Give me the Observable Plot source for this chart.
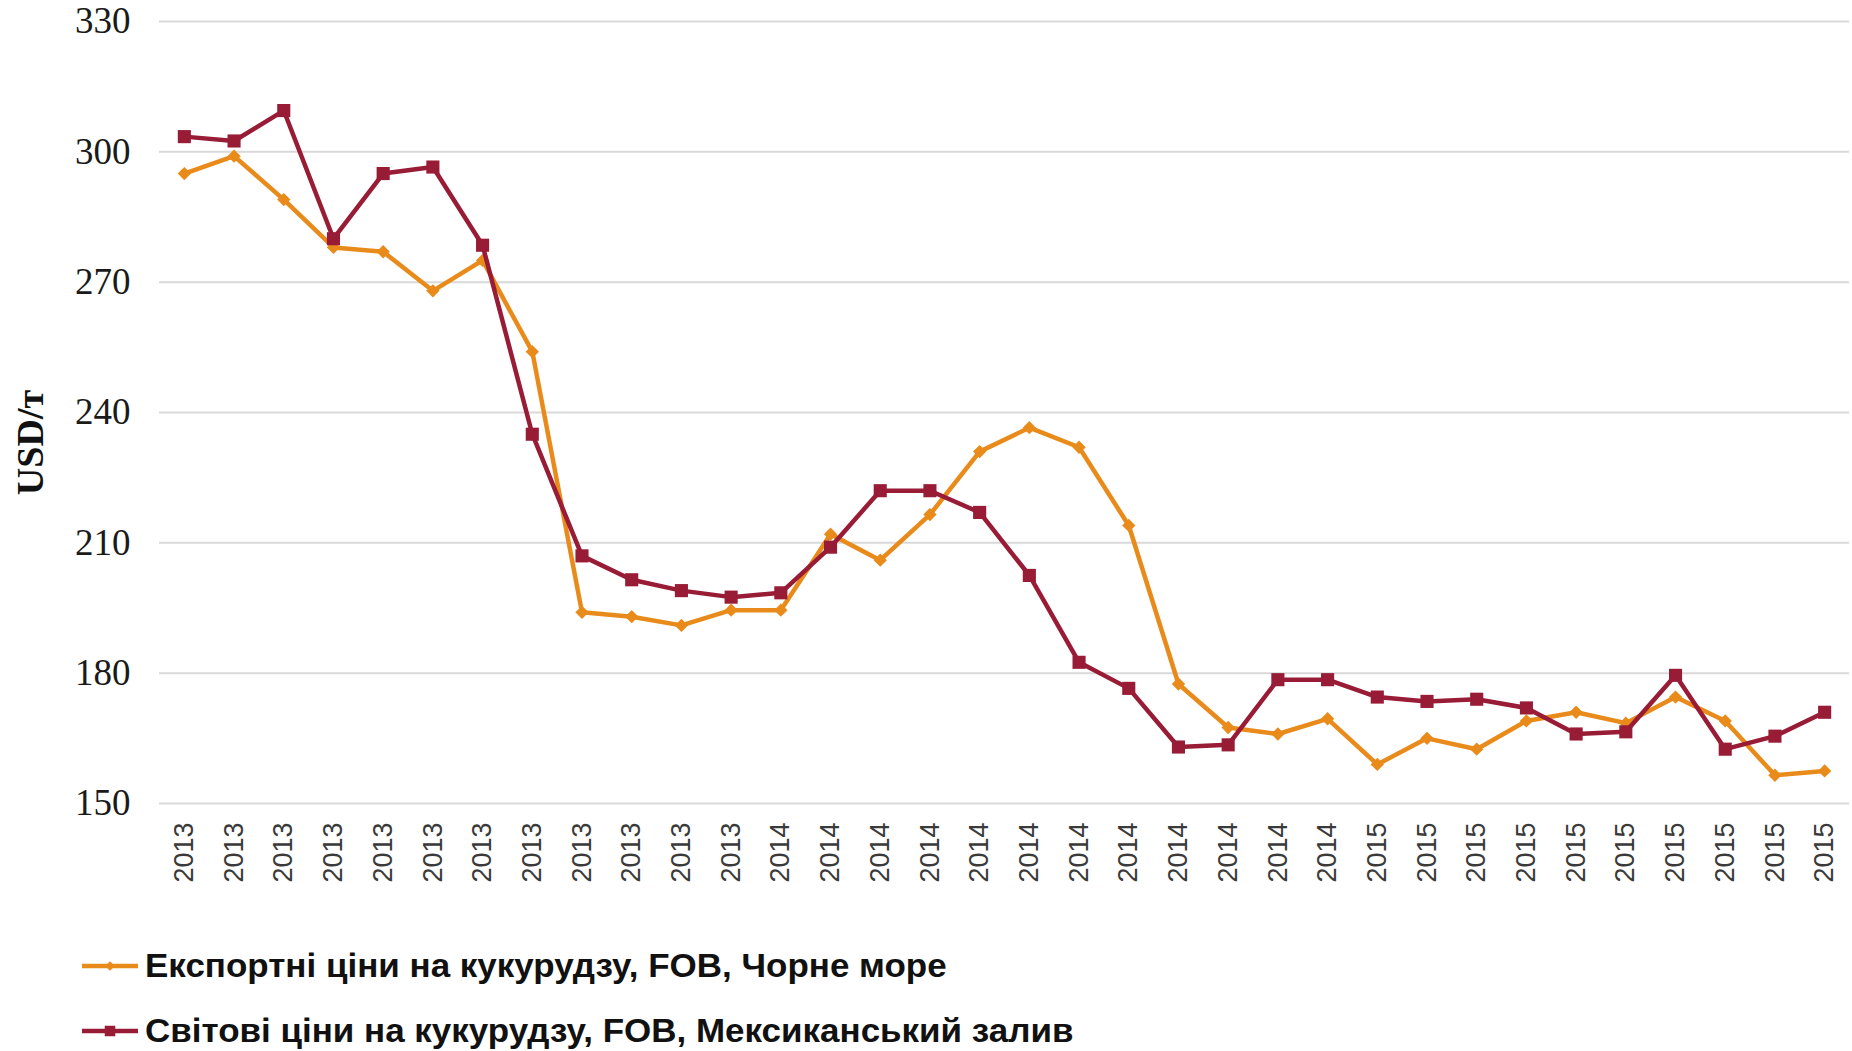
<!DOCTYPE html>
<html>
<head>
<meta charset="utf-8">
<script src="https://cdn.jsdelivr.net/npm/d3@7"></script>
<script src="https://cdn.jsdelivr.net/npm/@observablehq/plot@0.6"></script>
<style>
  html, body { margin: 0; padding: 0; background: #fff; }
  body { width: 1852px; height: 1051px; overflow: hidden; position: relative; }
  #chart { position: absolute; left: 0; top: 0; }
  .item { position: absolute; left: 82px; display: flex; align-items: center; white-space: nowrap;
          transform: translateY(-50%); font-family: "Liberation Sans", Arial, sans-serif;
          font-weight: bold; font-size: 33px; color: #111; }
  .item svg { margin-right: 5px; }
  .item span { display: inline-block; transform: scaleX(1.06); transform-origin: left center; }
</style>
</head>
<body>
<div id="chart"></div>
<div id="legend"></div>
<script>
// Period tick labels (monthly observations, labelled by year)
const periods = [
  "2013","2013","2013","2013","2013","2013","2013","2013","2013","2013","2013","2013",
  "2014","2014","2014","2014","2014","2014","2014","2014","2014","2014","2014","2014",
  "2015","2015","2015","2015","2015","2015","2015","2015","2015","2015"
];
// Експортні ціни на кукурудзу, FOB, Чорне море (USD/т)
const blackSea = [
  295, 299, 289, 278, 277, 268, 275, 254, 194, 193, 191, 194.5,
  194.5, 212, 206, 216.5, 231, 236.5, 232, 214, 177.5, 167.5, 166, 169.5,
  159, 165, 162.5, 169, 171, 168.5, 174.5, 169, 156.5, 157.5
];
// Світові ціни на кукурудзу, FOB, Мексиканський залив (USD/т)
const gulf = [
  303.5, 302.5, 309.5, 280, 295, 296.5, 278.5, 235, 207, 201.5, 199, 197.5,
  198.5, 209, 222, 222, 217, 202.5, 182.5, 176.5, 163, 163.5, 178.5, 178.5,
  174.5, 173.5, 174, 172, 166, 166.5, 179.5, 162.5, 165.5, 171
];
const seriesNames = [
  "Експортні ціни на кукурудзу, FOB, Чорне море",
  "Світові ціни на кукурудзу, FOB, Мексиканський залив"
];
const seriesColors = ["#E98B1B", "#991C36"];
const seriesSymbols = ["diamond2", "square"];
const yTicks = [150, 180, 210, 240, 270, 300, 330];
const yLabel = "USD/т";

const rowsA = periods.map((p, i) => ({ i, period: p, value: blackSea[i], series: seriesNames[0] }));
const rowsB = periods.map((p, i) => ({ i, period: p, value: gulf[i], series: seriesNames[1] }));
const idx = d3.range(periods.length);

const chart = Plot.plot({
  width: 1852,
  height: 900,
  marginLeft: 159,
  marginRight: 3,
  marginTop: 21,
  marginBottom: 97,
  style: { background: "transparent", overflow: "visible" },
  x: { type: "point", domain: idx, padding: 0.5, round: false },
  y: { domain: [150, 330] },
  marks: [
    Plot.gridY(yTicks, { stroke: "#d9d9d9", strokeOpacity: 1, strokeWidth: 2 }),
    Plot.axisY(yTicks, { tickSize: 0, tickPadding: 29, fontSize: 37, fontFamily: "Liberation Serif, Times New Roman, serif", fill: "#1a1a1a", label: null }),
    Plot.axisX(idx, { tickSize: 0, tickRotate: -90, tickPadding: 19, fontSize: 27, fontFamily: "Liberation Sans, Arial, sans-serif", fill: "#3a3a3a", tickFormat: i => periods[i], label: null }),
    Plot.text([yLabel], { frameAnchor: "left", textAnchor: "middle", lineAnchor: "middle", dx: -129, dy: 30, rotate: -90, fontSize: 38, fontWeight: "bold", fontFamily: "Liberation Serif, Times New Roman, serif", fill: "#111" }),
    Plot.line(rowsA, { x: "i", y: "value", stroke: seriesColors[0], strokeWidth: 4.5 }),
    Plot.dot(rowsA, { x: "i", y: "value", symbol: seriesSymbols[0], r: 6, fill: seriesColors[0], stroke: null }),
    Plot.line(rowsB, { x: "i", y: "value", stroke: seriesColors[1], strokeWidth: 4.5 }),
    Plot.dot(rowsB, { x: "i", y: "value", symbol: seriesSymbols[1], r: 7.4, fill: seriesColors[1], stroke: null })
  ]
});
document.getElementById("chart").appendChild(chart);

// Legend below the plot
const legendTops = [966, 1031];
const legend = document.getElementById("legend");
seriesNames.forEach((name, k) => {
  const item = document.createElement("div");
  item.className = "item";
  item.style.top = legendTops[k] + "px";
  const sw = d3.create("svg").attr("width", 58).attr("height", 20);
  sw.append("line").attr("x1", 0).attr("x2", 56).attr("y1", 10).attr("y2", 10)
    .attr("stroke", seriesColors[k]).attr("stroke-width", 4.5);
  const sym = d3.symbol(k === 0 ? d3.symbolDiamond2 : d3.symbolSquare, k === 0 ? 60 : 110);
  sw.append("path").attr("d", sym()).attr("transform", "translate(28,10)").attr("fill", seriesColors[k]);
  item.appendChild(sw.node());
  const span = document.createElement("span");
  span.textContent = name;
  item.appendChild(span);
  legend.appendChild(item);
});
</script>
</body>
</html>
